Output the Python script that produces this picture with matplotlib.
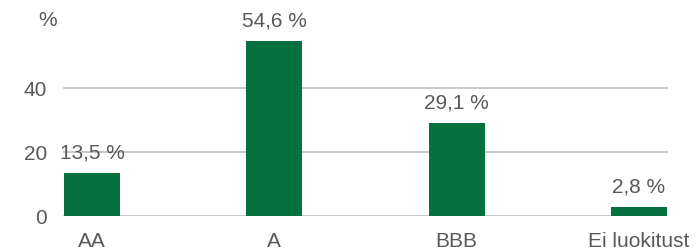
import matplotlib
matplotlib.use("Agg")
import matplotlib.pyplot as plt

categories = ["AA", "A", "BBB", "Ei luokitust"]
values = [13.5, 54.6, 29.1, 2.8]
labels = ["13,5 %", "54,6 %", "29,1 %", "2,8 %"]
yticks = [0, 20, 40]

plt.rcParams['font.family'] = ['Liberation Sans', 'DejaVu Sans']
txt = "#595959"
fs = 15
fig = plt.figure(figsize=(7.0, 2.51), dpi=100)
ax = fig.add_axes([63/700, 1-217/251, (668-63)/700, (217-25)/251])
x = range(len(categories))
ax.bar(x, values, width=0.307, color="#07703f", zorder=2)
ax.set_xlim(-0.16, 3.16)
ax.set_ylim(0, 60)
for xi, v, l in zip(x, values, labels):
    ax.annotate(l, (xi, v), xytext=(0, 11.2), textcoords="offset points",
                ha="center", va="baseline", fontsize=fs, color=txt, zorder=3)
ax.set_yticks(yticks)
ax.set_yticklabels([str(t) for t in yticks])
ax.set_xticks(list(x))
ax.set_xticklabels(categories)
ax.grid(axis="y", color="#bfbfbf", linewidth=1.2, zorder=1)
ax.tick_params(axis="both", length=0, labelsize=fs, labelcolor=txt)
ax.tick_params(axis="y", pad=11.5)
ax.tick_params(axis="x", pad=11)
for s in ax.spines.values():
    s.set_visible(False)
fig.text(47.5/700, 1-20.5/251, "%", ha="center", va="center", fontsize=fs, color=txt)
fig.savefig("out.png", dpi=100)
